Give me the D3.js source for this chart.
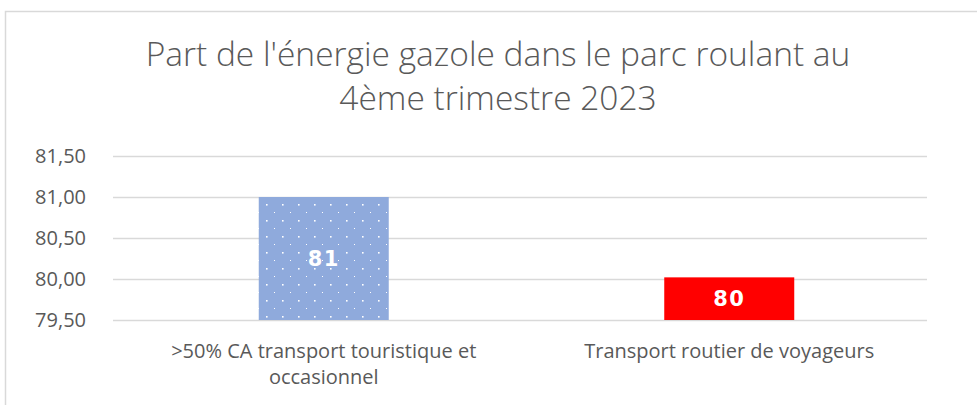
<!DOCTYPE html>
<html>
<head>
<meta charset="utf-8">
<script src="https://cdn.jsdelivr.net/npm/d3@7"></script>
<style>
  html, body { margin: 0; padding: 0; background: #fff; }
  text { font-family: "Open Sans", sans-serif; fill: #595959; }
</style>
</head>
<body>
<svg id="chart" width="977" height="405"></svg>
<script>
var titleLines = ["Part de l'énergie gazole dans le parc roulant au", "4ème trimestre 2023"];
var categories = [">50% CA transport touristique et occasionnel", "Transport routier de voyageurs"];
var values = [81.0, 80.02];
var valueLabels = ["81", "80"];
var barColors = ["#8faadc", "#ff0000"];
var yTicks = [79.5, 80.0, 80.5, 81.0, 81.5];

var svg = d3.select("#chart");

// chart frame (only top and left visible in the crop)
svg.append("path")
  .attr("d", "M5.5,420 V11.5 H990")
  .attr("fill", "none")
  .attr("stroke", "#d9d9d9")
  .attr("stroke-width", 1.5);

// dotted fill like Excel's 5% pattern
var defs = svg.append("defs");
var pat = defs.append("pattern")
  .attr("id", "dots")
  .attr("patternUnits", "userSpaceOnUse")
  .attr("width", 16).attr("height", 16)
  .attr("x", 259).attr("y", 197);
pat.append("rect").attr("width", 16).attr("height", 16).attr("fill", barColors[0]);
pat.append("rect").attr("x", 7).attr("y", 7).attr("width", 1.6).attr("height", 1.6).attr("fill", "#fff");
pat.append("rect").attr("x", 15).attr("y", 15).attr("width", 1.6).attr("height", 1.6).attr("fill", "#fff");

var plot = {left: 113, right: 927, top: 156, bottom: 320};

var y = d3.scaleLinear().domain([79.5, 81.5]).range([plot.bottom, plot.top]);
var x = d3.scaleBand().domain(categories).range([121, 932]).padding(0);
var barW = 130;

// title
svg.append("text")
  .attr("x", 498).attr("y", 66)
  .attr("text-anchor", "middle")
  .style("font-size", "33.5px")
  .style("font-weight", 300)
  .selectAll("tspan").data(titleLines).enter().append("tspan")
  .attr("x", 498)
  .attr("dy", function(d, i) { return i ? 44 : 0; })
  .text(function(d) { return d; });

// y axis with gridlines
var fmt = function(d) { return d3.format(".2f")(d).replace(".", ","); };
var yAxis = svg.append("g")
  .attr("transform", "translate(" + plot.left + ",0)")
  .call(d3.axisLeft(y).tickValues(yTicks).tickFormat(fmt)
    .tickSize(-(plot.right - plot.left)).tickPadding(27));
yAxis.select(".domain").remove();
yAxis.selectAll("line").attr("stroke", "#d9d9d9").attr("stroke-width", 1.5);
yAxis.selectAll("text")
  .style("font-size", "20px")
  .attr("fill", "#595959")
  .style("font-family", "'Open Sans', sans-serif");

// bars
svg.selectAll("rect.bar").data(values).enter().append("rect")
  .attr("class", "bar")
  .attr("x", function(d, i) { return x(categories[i]) + (x.bandwidth() - barW) / 2; })
  .attr("width", barW)
  .attr("y", function(d) { return y(d); })
  .attr("height", function(d) { return y(79.5) - y(d); })
  .attr("fill", function(d, i) { return i === 0 ? "url(#dots)" : barColors[i]; });

// value labels
svg.selectAll("text.val").data(values).enter().append("text")
  .attr("class", "val")
  .attr("x", function(d, i) { return x(categories[i]) + x.bandwidth() / 2; })
  .attr("y", function(d) { return (y(d) + y(79.5)) / 2; })
  .attr("dy", "0.36em")
  .attr("text-anchor", "middle")
  .style("font-family", "'DejaVu Sans', sans-serif")
  .style("font-weight", "bold")
  .style("font-size", "21px")
  .style("letter-spacing", "1.5px")
  .style("fill", "#fff")
  .text(function(d, i) { return valueLabels[i]; });

// category labels, wrapped to the band
function wrap(sel, width) {
  sel.each(function() {
    var t = d3.select(this), words = t.text().split(/\s+/), line = [];
    var cx = t.attr("x");
    t.text(null);
    var ts = t.append("tspan").attr("x", cx).attr("dy", 0);
    words.forEach(function(w) {
      line.push(w);
      ts.text(line.join(" "));
      if (ts.node().getComputedTextLength() > width && line.length > 1) {
        line.pop();
        ts.text(line.join(" "));
        line = [w];
        ts = t.append("tspan").attr("x", cx).attr("dy", 26).text(w);
      }
    });
  });
}

svg.selectAll("text.cat").data(categories).enter().append("text")
  .attr("class", "cat")
  .attr("x", function(d) { return x(d) + x.bandwidth() / 2; })
  .attr("y", 358)
  .attr("text-anchor", "middle")
  .style("font-size", "20px")
  .text(function(d) { return d; })
  .call(wrap, 345);
</script>
</body>
</html>
